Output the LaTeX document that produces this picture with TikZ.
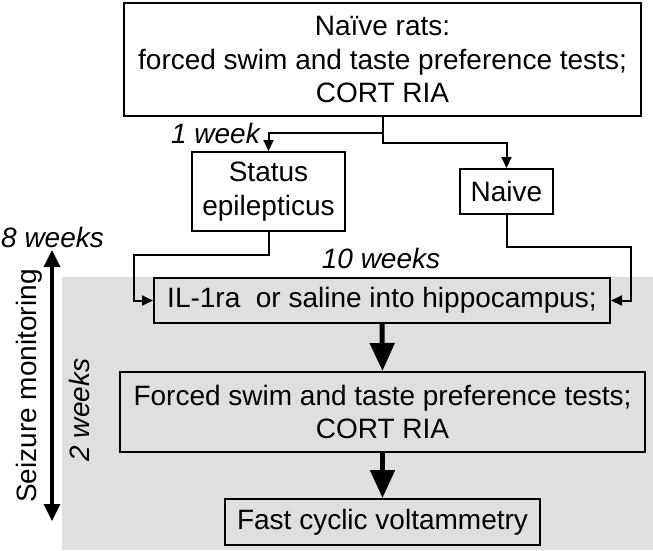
\documentclass[tikz,border=0pt]{standalone}
\usepackage{fontspec}
\setmainfont{Liberation Sans}
\usetikzlibrary{arrows.meta}
\tikzset{
  box/.style={draw=black, line width=2pt, rectangle, inner sep=0pt, align=center,
    font=\fontsize{28}{33.6}\selectfont},
  lbl/.style={inner sep=0pt, font=\fontsize{28}{33.6}\selectfont},
  conn/.style={draw=black, line width=2pt, -{Triangle[length=11pt,width=10pt]}},
  plainconn/.style={draw=black, line width=2pt},
  bigarrow/.style={draw=black, line width=5pt, -{Triangle[length=28pt,width=24pt]}},
  dblarrow/.style={draw=black, line width=3.5pt, {Triangle[length=17pt,width=16pt]}-{Triangle[length=17pt,width=16pt]}}
}
\begin{document}
\begin{tikzpicture}[x=1pt,y=-1pt]
\useasboundingbox (0,0) rectangle (653,550);
% gray background
\fill[gray!25] (62,277) rectangle (653,550);
% nodes
\node[box, fill=white, minimum width=517pt, minimum height=113pt] (top) at (382.5,59.5)
  {Naïve rats:\\forced swim and taste preference tests;\\CORT RIA};
\node[box, fill=white, minimum width=153pt, minimum height=79pt] (status) at (268.5,191.5)
  {Status\\epilepticus};
\node[box, fill=white, minimum width=93pt, minimum height=45pt] (naive) at (506.5,191.5)
  {Naive};
\node[box, minimum width=456pt, minimum height=45pt] (il) at (382,300.5)
  {IL-1ra\ \ or saline into hippocampus;};
\node[box, minimum width=525pt, minimum height=80pt] (forced) at (382.5,412)
  {Forced swim and taste preference tests;\\CORT RIA};
\node[box, minimum width=315pt, minimum height=46pt] (fast) at (382.5,522)
  {Fast cyclic voltammetry};
% coordinates
\coordinate (split1) at (382.5,133);
\coordinate (split2) at (382.5,143);
\coordinate (sbend) at (268.5,255);
\coordinate (sleft) at (134,255);
\coordinate (nbend) at (506.5,247);
\coordinate (nright) at (631,247);
\coordinate (dtop) at (52,250);
\coordinate (dbot) at (52,521);
% connectors
\draw[plainconn] (top.south) -- (split1);
\draw[conn] (split1) -| (status.north);
\draw[conn] (split1) -- (split2) -| (naive.north);
\draw[conn] (status.south) -- (sbend) -- (sleft) |- (il.west);
\draw[conn] (naive.south) -- (nbend) -- (nright) |- (il.east);
\draw[bigarrow] (il.south) -- (forced.north);
\draw[bigarrow] (forced.south) -- (fast.north);
\draw[dblarrow] (dtop) -- (dbot);
% labels
\node[lbl, anchor=east, font=\fontsize{28}{33.6}\selectfont\itshape] (w1) at (260,133) {1 week};
\node[lbl, anchor=base west, font=\fontsize{28}{33.6}\selectfont\itshape] (w8) at (1,247) {8 weeks};
\node[lbl, anchor=base, font=\fontsize{28}{33.6}\selectfont\itshape] (w10) at (381,268) {10 weeks};
\node[lbl, rotate=90] (seiz) at (29,386) {Seizure monitoring};
\node[lbl, rotate=90, font=\fontsize{28}{33.6}\selectfont\itshape] (w2) at (79,410) {2 weeks};
\end{tikzpicture}
\end{document}
